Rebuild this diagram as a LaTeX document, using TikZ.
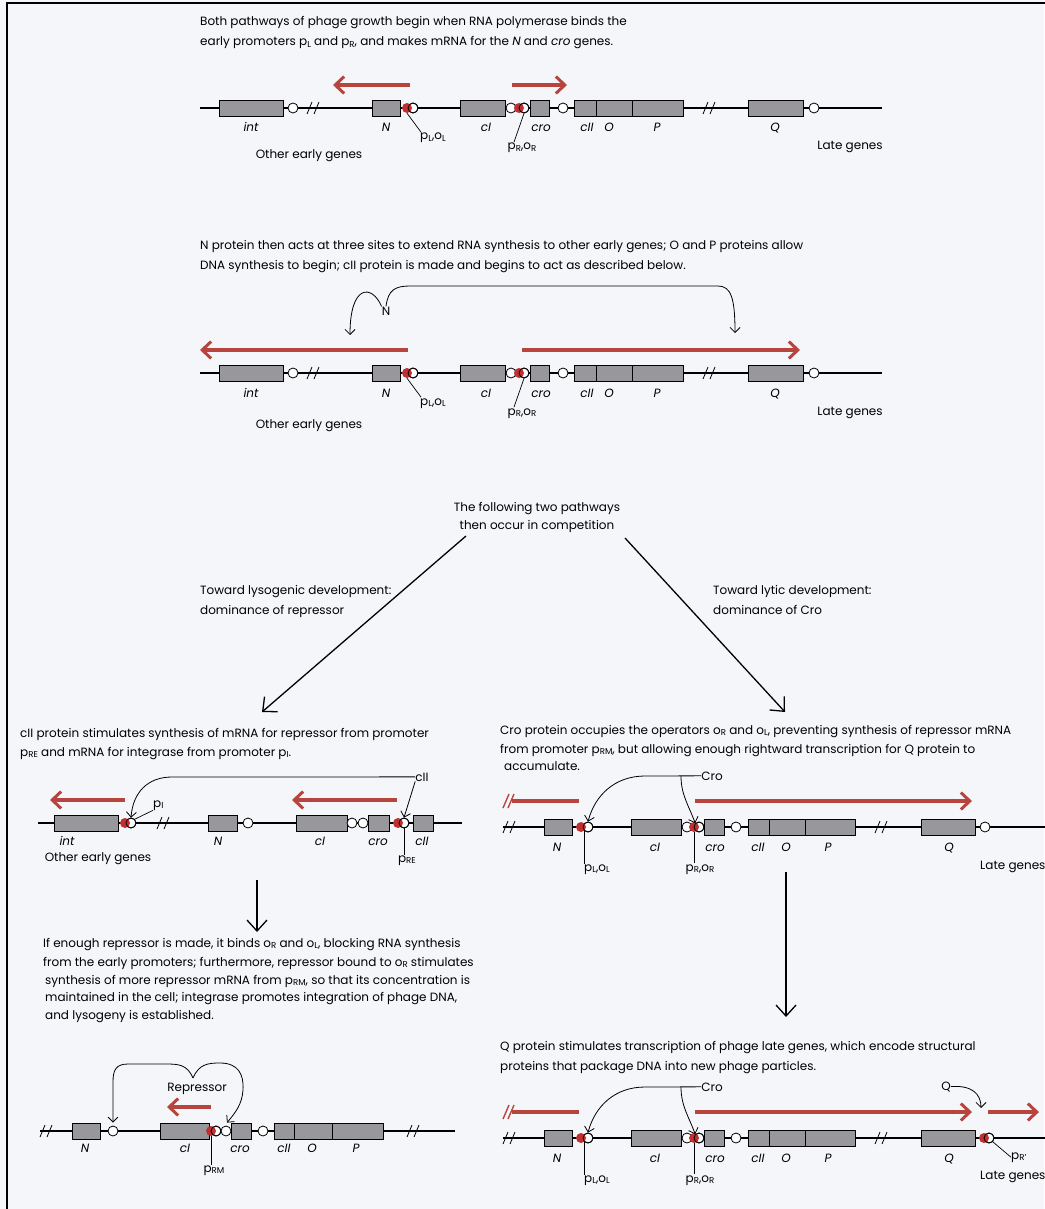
\documentclass[tikz,border=0pt]{standalone}
\usepackage{fontspec}
\setmainfont{Poppins}
\usetikzlibrary{arrows.meta,calc}
\definecolor{bgcol}{RGB}{244,246,250}
\definecolor{genegray}{RGB}{152,152,156}
\definecolor{promred}{RGB}{192,48,48}
\definecolor{mrnared}{RGB}{184,68,62}
\newcommand\sbs[1]{\raisebox{-1.8pt}{\fontsize{8.6}{9}\selectfont #1}}
\tikzset{
 gene/.style={draw=black, line width=0.9pt, fill=genegray, minimum height=16pt, inner sep=0pt},
 termc/.style={circle, draw=black, line width=0.8pt, fill=white, minimum size=10pt, inner sep=0pt},
 promc/.style={circle, fill=promred, minimum size=10pt, inner sep=0pt},
 ringc/.style={circle, draw=black, line width=0.8pt, minimum size=10pt, inner sep=0pt},
 dna/.style={line width=1.6pt},
 brkline/.style={line width=0.8pt},
 redbrk/.style={draw=mrnared, line width=1.4pt},
 mrna/.style={draw=mrnared, line width=4pt, -{Straight Barb[length=9pt,width=17pt,line width=3pt]}},
 mrnaplain/.style={draw=mrnared, line width=4pt},
 glab/.style={font=\fontsize{12}{14}\selectfont\itshape, inner sep=0pt, anchor=base},
 plab/.style={font=\fontsize{12}{14}\selectfont, inner sep=0pt, anchor=base},
 para/.style={font=\fontsize{12}{14}\selectfont, inner sep=0pt, anchor=base west},
 lead/.style={line width=0.7pt},
 act/.style={line width=0.8pt, -{Straight Barb[length=5pt,width=10pt]}},
 bigarrow/.style={line width=1.3pt, -{Straight Barb[length=11pt,width=20pt]}},
}
\newcommand\dnabreak[2]{\draw[brkline] ({#1-6},{#2+6}) -- ({#1-1},{#2-6}) ({#1+1},{#2+6}) -- ({#1+6},{#2-6});}
\newcommand\genebox[5]{\node[gene,minimum width={#4-#3}] (#1#2) at ({(#3+#4)/2},#5) {};}
\newcommand\termnode[3]{\node[termc] (#1) at (#2,#3) {};}
\newcommand\promnode[4]{\node[termc] (#1) at (#3,#4) {};\node[promc] (#1r) at (#2,#4) {};\node[ringc] (#1o) at (#3,#4) {};}
\newcommand\earlymap[2]{%
\coordinate (#1L) at (200,108);
\coordinate (#1R) at (882,108);
\draw[dna] (#1L) -- (#1R);
\dnabreak{313}{108}
\dnabreak{709}{108}
\genebox{#1}{int}{219}{283}{108}
\termnode{#1ta}{293}{108}
\genebox{#1}{N}{372}{400}{108}
\promnode{#1pL}{407}{413}{108}
\genebox{#1}{cI}{460}{505}{108}
\termnode{#1oR}{511}{108}
\promnode{#1pR}{519}{524}{108}
\genebox{#1}{cro}{530}{549}{108}
\termnode{#1tb}{563}{108}
\genebox{#1}{cII}{574}{596}{108}
\genebox{#1}{O}{596}{632}{108}
\genebox{#1}{P}{632}{683}{108}
\genebox{#1}{Q}{748}{803}{108}
\termnode{#1tc}{814}{108}
\node[glab] (#1intl) at (251,132) {int};
\node[glab] (#1Nl) at (386,132) {N};
\node[glab] (#1cIl) at (486,132) {cI};
\node[glab] (#1crol) at (541,132) {cro};
\node[glab] (#1cIIl) at (587,132) {cII};
\node[glab] (#1Ol) at (609,132) {O};
\node[glab] (#1Pl) at (657,132) {P};
\node[glab] (#1Ql) at (775,132) {Q};
\node[plab] (#1pLl) at (433,140) {p\sbs{L},o\sbs{L}};
\draw[lead] (#1pLr.south) -- ($(#1pLl.north west)+(1,-1)$);
\node[plab] (#1pRl) at (522,150) {p\sbs{R},o\sbs{R}};
\draw[lead] (#1pR.south) -- ($(#1pRl.north)+(-8,-1)$);
\node[plab] (#1oeg) at (309,#2) {Other early genes};
\node[plab] (#1late) at (850,150) {Late genes};
}
\newcommand\lyticmap[1]{%
\coordinate (#1L) at (503,827);
\coordinate (#1R) at (1050,827);
\draw[dna] (#1L) -- (#1R);
\dnabreak{509}{827}
\dnabreak{881}{827}
\genebox{#1}{N}{544}{572}{827}
\promnode{#1pL}{581}{588}{827}
\genebox{#1}{cI}{631}{681}{827}
\termnode{#1oR}{687}{827}
\promnode{#1pR}{694}{699}{827}
\genebox{#1}{cro}{704}{724}{827}
\termnode{#1tb}{736}{827}
\genebox{#1}{cII}{748}{769}{827}
\genebox{#1}{O}{769}{805}{827}
\genebox{#1}{P}{805}{855}{827}
\genebox{#1}{Q}{921}{975}{827}
\node[glab] (#1Nl) at (557,851) {N};
\node[glab] (#1cIl) at (655,851) {cI};
\node[glab] (#1crol) at (715,851) {cro};
\node[glab] (#1cIIl) at (758,851) {cII};
\node[glab] (#1Ol) at (786,851) {O};
\node[glab] (#1Pl) at (828,851) {P};
\node[glab] (#1Ql) at (949,851) {Q};
\node[plab] (#1pLl) at (597,871) {p\sbs{L},o\sbs{L}};
\draw[lead] (#1pL.south west) -- (#1pL.south west |- #1pLl.north);
\node[plab] (#1pRl) at (700,871) {p\sbs{R},o\sbs{R}};
\draw[lead] (#1pRr.south) -- ($(#1pRl.north)+(-6,-1)$);
\coordinate (#1ma) at (579,801);
\coordinate (#1mb) at (512,801);
\draw[mrnaplain] (#1ma) -- (#1mb);
\draw[redbrk] (503,808) -- (509,794) (508,808) -- (514,794);
\coordinate (#1mc) at (695,801);
\coordinate (#1md) at (972,801);
\draw[mrna] (#1mc) -- (#1md);
\node[plab] (#1crop) at (712,780) {Cro};
\coordinate (#1cb) at (681,776);
\draw[act] (#1crop.west) -- (645,776) .. controls (615,776) and (595,795) .. (#1pL.north);
\draw[act] (#1cb) .. controls (681,795) and (689,806) .. (#1pR.north west);
}
\begin{document}
\begin{tikzpicture}[x=1pt,y=-1pt]
\useasboundingbox (0,0) rectangle (1044,1209);
\fill[bgcol] (0,0) rectangle (1044,1209);
\draw[line width=2pt] (7,1215) -- (7,3) -- (1050,3);

% ---------- panel 1 ----------
\node[para] (t1a) at (200,26) {Both pathways of phage growth begin when RNA polymerase binds the};
\node[para] (t1b) at (200,46) {early promoters p\sbs{L} and p\sbs{R}, and makes mRNA for the \textit{N} and \textit{cro} genes.};
\coordinate (r1a) at (410,85); \coordinate (r1b) at (333,85);
\draw[mrna] (r1a) -- (r1b);
\coordinate (r1c) at (512,85); \coordinate (r1d) at (567,85);
\draw[mrna] (r1c) -- (r1d);
\earlymap{pa}{159}

% ---------- panel 2 ----------
\node[para] (t2a) at (200,249) {N protein then acts at three sites to extend RNA synthesis to other early genes; O and P proteins allow};
\node[para] (t2b) at (200,269) {DNA synthesis to begin; cII protein is made and begins to act as described below.};
\begin{scope}[shift={(0,265)}]
\earlymap{pb}{163}
\end{scope}
\node[plab] (nprot) at (386,315) {N};
\coordinate (nA) at (350,335);
\coordinate (nB) at (735,333);
\draw[act] (nprot.north west) .. controls (372,284) and (350,284) .. (nA);
\draw[act] (nprot.north) .. controls (388,290) and (395,286) .. (410,286) -- (718,286) .. controls (731,286) and (735,298) .. (nB);
\coordinate (r2a) at (408,350); \coordinate (r2b) at (200,350);
\draw[mrna] (r2a) -- (r2b);
\coordinate (r2c) at (522,350); \coordinate (r2d) at (800,350);
\draw[mrna] (r2c) -- (r2d);

% ---------- branching ----------
\node[plab] (mid1) at (537,511) {The following two pathways};
\node[plab] (mid2) at (537,529) {then occur in competition};
\coordinate (dl1) at (466,536); \coordinate (dl2) at (262,712);
\draw[bigarrow] (dl1) -- (dl2);
\coordinate (dr1) at (625,538); \coordinate (dr2) at (785,712);
\draw[bigarrow] (dr1) -- (dr2);
\node[para] (lys1) at (200,594) {Toward lysogenic development:};
\node[para] (lys2) at (200,614) {dominance of repressor};
\node[para] (lyt1) at (713,594) {Toward lytic development:};
\node[para] (lyt2) at (713,614) {dominance of Cro};

% ---------- panel 3 (lysogenic) ----------
\node[para] (t3a) at (20,737) {cII protein stimulates synthesis of mRNA for repressor from promoter};
\node[para] (t3b) at (20,756) {p\sbs{RE} and mRNA for integrase from promoter p\sbs{I}.};
\coordinate (c3L) at (38,823); \coordinate (c3R) at (462,823);
\draw[dna] (c3L) -- (c3R);
\dnabreak{163}{823}
\genebox{c3}{int}{54}{118}{823}
\promnode{c3pI}{125}{131}{823}
\genebox{c3}{N}{208}{237}{823}
\termnode{c3ta}{248}{823}
\genebox{c3}{cI}{296}{347}{823}
\termnode{c3oa}{352}{823}
\termnode{c3ob}{363}{823}
\genebox{c3}{cro}{368}{389}{823}
\promnode{c3pRE}{398}{404}{823}
\genebox{c3}{cII}{413}{433}{823}
\node[glab] (c3intl) at (67,845) {int};
\node[glab] (c3Nl) at (218,845) {N};
\node[glab] (c3cIl) at (320,845) {cI};
\node[glab] (c3crol) at (378,845) {cro};
\node[glab] (c3cIIl) at (422,845) {cII};
\node[plab] (c3oeg) at (98,861) {Other early genes};
\node[plab] (c3pREl) at (407,862) {p\sbs{RE}};
\draw[lead] (c3pRE.south) -- (c3pRE.south |- c3pREl.north);
\node[plab, anchor=base west] (c3pIl) at (153,807) {p\sbs{I}};
\draw[lead] (c3pI.north east) -- (c3pIl.south west);
\coordinate (r3a) at (125,800); \coordinate (r3b) at (50,800);
\draw[mrna] (r3a) -- (r3b);
\coordinate (r3c) at (397,800); \coordinate (r3d) at (292,800);
\draw[mrna] (r3c) -- (r3d);
\node[plab] (c3cIIp) at (422,781) {cII};
\draw[act] (c3cIIp.west) -- (172,777) .. controls (148,777) and (133,792) .. (c3pI.north);
\draw[act] (c3cIIp.south west) -- (c3pRE.north);
\coordinate (v1a) at (257,880); \coordinate (v1b) at (257,932);
\draw[bigarrow] (v1a) -- (v1b);

% ---------- panel 4 text ----------
\node[para] (t4a) at (43,947) {If enough repressor is made, it binds o\sbs{R} and o\sbs{L}, blocking RNA synthesis};
\node[para] (t4b) at (43,966) {from the early promoters; furthermore, repressor bound to o\sbs{R} stimulates};
\node[para] (t4c) at (45,984) {synthesis of more repressor mRNA from p\sbs{RM}, so that its concentration is};
\node[para] (t4d) at (45,1001) {maintained in the cell; integrase promotes integration of phage DNA,};
\node[para] (t4e) at (45,1019) {and lysogeny is established.};

% ---------- panel 5 ----------
\coordinate (c5L) at (40,1131); \coordinate (c5R) at (455,1131);
\draw[dna] (c5L) -- (c5R);
\dnabreak{46}{1131}
\dnabreak{413}{1131}
\genebox{c5}{N}{72}{100}{1131}
\termnode{c5ta}{113}{1131}
\genebox{c5}{cI}{160}{209}{1131}
\promnode{c5pRM}{211}{216}{1131}
\termnode{c5oR}{226}{1131}
\genebox{c5}{cro}{231}{251}{1131}
\termnode{c5tb}{263}{1131}
\genebox{c5}{cII}{274}{294}{1131}
\genebox{c5}{O}{294}{332}{1131}
\genebox{c5}{P}{332}{383}{1131}
\node[glab] (c5Nl) at (85,1152) {N};
\node[glab] (c5cIl) at (185,1152) {cI};
\node[glab] (c5crol) at (240,1152) {cro};
\node[glab] (c5cIIl) at (284,1152) {cII};
\node[glab] (c5Ol) at (312,1152) {O};
\node[glab] (c5Pl) at (356,1152) {P};
\node[plab] (c5pRMl) at (214,1172) {p\sbs{RM}};
\draw[lead] (c5pRMr.south) -- (c5pRMr.south |- c5pRMl.north);
\coordinate (r5a) at (211,1107); \coordinate (r5b) at (167,1107);
\draw[mrna] (r5a) -- (r5b);
\node[plab] (c5rep) at (197,1091) {Repressor};
\coordinate (c5cusp) at (193,1078);
\draw[act] (c5cusp) .. controls (187,1064) and (178,1064) .. (165,1064) -- (128,1064) .. controls (116,1064) and (113,1070) .. (113,1082) -- ($(c5ta.north)+(0,-3)$);
\draw[act] (c5cusp) .. controls (199,1064) and (208,1063) .. (220,1063) .. controls (238,1063) and (244,1074) .. (243,1090) .. controls (242,1104) and (236,1112) .. ($(c5oR.north)+(1,-3)$);

% ---------- panel 6 (lytic) ----------
\node[para] (t6a) at (500,734) {Cro protein occupies the operators o\sbs{R} and o\sbs{L}, preventing synthesis of repressor mRNA};
\node[para] (t6b) at (500,753) {from promoter p\sbs{RM}, but allowing enough rightward transcription for Q protein to};
\node[para] (t6c) at (504,770) {accumulate.};
\lyticmap{p6}
\termnode{p6tc}{985}{827}
\node[para] (p6late) at (980,869) {Late genes};
\coordinate (v2a) at (786,872); \coordinate (v2b) at (786,1017);
\draw[bigarrow] (v2a) -- (v2b);

% ---------- panel 7 ----------
\node[para] (t7a) at (500,1050) {Q protein stimulates transcription of phage late genes, which encode structural};
\node[para] (t7b) at (500,1070) {proteins that package DNA into new phage particles.};
\begin{scope}[shift={(0,311)}]
\lyticmap{p7}
\promnode{p7pRp}{984}{989}{827}
\node[plab, anchor=base west] (p7pRpl) at (1011,848) {p\sbs{R'}};
\draw[lead] (p7pRp.south east) -- (p7pRpl.west);
\node[para] (p7late) at (980,868) {Late genes};
\coordinate (p7me) at (988,801); \coordinate (p7mf) at (1039,801);
\draw[mrna] (p7me) -- (p7mf);
\node[plab] (p7Qp) at (946,779) {Q};
\coordinate (p7qt) at (981,797);
\draw[act] (p7Qp.east) .. controls (972,774) and (981,783) .. (p7qt);
\end{scope}
\end{tikzpicture}
\end{document}
